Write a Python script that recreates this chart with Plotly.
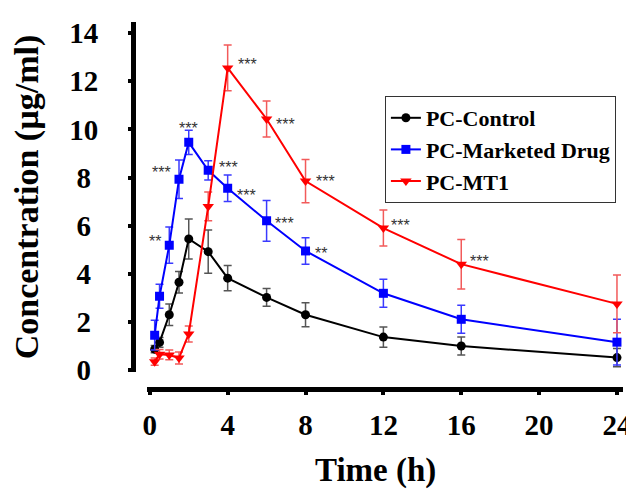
import plotly.graph_objects as go

# ---- data ----
time_h = [0.25, 0.5, 1, 1.5, 2, 3, 4, 6, 8, 12, 16, 24]

control = [0.87, 1.15, 2.3, 3.65, 5.45, 4.92, 3.82, 3.02, 2.3, 1.37, 1.0, 0.52]
control_sd = [0.15, 0.2, 0.45, 0.45, 0.83, 0.9, 0.52, 0.37, 0.5, 0.42, 0.37, 0.38]

marketed = [1.45, 3.07, 5.19, 7.93, 9.46, 8.3, 7.55, 6.2, 4.95, 3.19, 2.11, 1.16]
marketed_sd = [0.62, 0.5, 0.75, 0.8, 0.5, 0.4, 0.55, 0.85, 0.55, 0.58, 0.58, 0.95]

mt1 = [0.35, 0.66, 0.63, 0.5, 1.5, 6.8, 12.55, 10.43, 7.85, 5.9, 4.4, 2.75]
mt1_sd = [0.15, 0.2, 0.2, 0.25, 0.33, 0.6, 0.95, 0.75, 0.9, 0.75, 1.03, 1.2]

marketed_sig = ["", "", "**", "***", "***", "***", "***", "***", "**", "", "", ""]
mt1_sig = ["", "", "", "", "", "", "***", "***", "***", "***", "***", "*"]

x_ticks = [0, 4, 8, 12, 16, 20, 24]
y_ticks = [0, 2, 4, 6, 8, 10, 12, 14]

series_names = ["PC-Control", "PC-Marketed Drug", "PC-MT1"]
x_title = "Time (h)"
y_title = "Concentration (µg/ml)"

# ---- styling ----
SERIF = "Liberation Serif"
styles = [
    dict(color="#000000", err="#555555", symbol="circle", size=9),
    dict(color="#0000ff", err="#3a3aff", symbol="square", size=9),
    dict(color="#ff0000", err="#f25a5a", symbol="triangle-down", size=10),
]

fig = go.Figure()
for name, y, sd, st in zip(series_names,
                           [control, marketed, mt1],
                           [control_sd, marketed_sd, mt1_sd],
                           styles):
    fig.add_trace(go.Scatter(
        x=time_h, y=y, name=name, mode="lines+markers",
        line=dict(color=st["color"], width=2),
        marker=dict(color=st["color"], symbol=st["symbol"], size=st["size"]),
        error_y=dict(type="data", array=sd, visible=True,
                     color=st["err"], thickness=1.5, width=4),
    ))

# significance markers: offsets (px) per time index
marketed_off = {2: (-6, 8, "right"), 3: (-6, 11, "right"), 4: (0, 18, "center"),
                5: (9, 7, "left"), 6: (7, -3, "left"), 7: (6, 1, "left"), 8: (7, 1, "left")}
mt1_off = {6: (8, 7, "left"), 7: (7, -1, "left"), 8: (8, 4, "left"),
           9: (6, 7, "left"), 10: (7, 7, "left"), 11: (8, 6, "left")}

annotations = []
for sig, vals, offs in [(marketed_sig, marketed, marketed_off), (mt1_sig, mt1, mt1_off)]:
    for i, s in enumerate(sig):
        if not s:
            continue
        dx, dy, anchor = offs[i]
        annotations.append(dict(
            x=time_h[i], y=vals[i], xref="x", yref="y", text=s, showarrow=False,
            xanchor=anchor, yanchor="middle", xshift=dx, yshift=dy - 4,
            font=dict(family="Liberation Sans", size=16, color="#333333")))

# x-axis title placed as paper annotation (centred like the reference)
annotations.append(dict(
    x=0.501, y=-0.212, xref="paper", yref="paper", text=x_title, showarrow=False,
    xanchor="center", yanchor="middle",
    font=dict(family=SERIF, size=33, color="black", weight="bold")))

# y tick labels: visually centred, like the reference
y_ticktext = [str(v) + ("\u2005" if v < 10 else "") for v in y_ticks]

# the page body adds an 8px offset, so the figure is 8px smaller each way
fig.update_layout(
    template="none",
    width=626, height=483,
    margin=dict(l=120, r=11, t=14, b=99, autoexpand=False),
    paper_bgcolor="white", plot_bgcolor="white",
    showlegend=True,
    legend=dict(x=0.519, y=0.8, xanchor="left", yanchor="top",
                bordercolor="#333333", borderwidth=1, bgcolor="white",
                font=dict(family=SERIF, size=22, color="black", weight="bold"),
                tracegroupgap=0, itemwidth=30),
    annotations=annotations,
    xaxis=dict(
        domain=[0.038, 1], anchor="free", position=0.008, automargin=False,
        range=[-0.154, 24.31], tickvals=x_ticks,
        showline=True, linecolor="black", linewidth=5,
        ticks="outside", ticklen=3, tickwidth=4, tickcolor="black",
        showgrid=False, zeroline=False,
        tickfont=dict(family=SERIF, size=29, color="black", weight="bold"),
        ticklabelstandoff=5,
    ),
    yaxis=dict(
        domain=[0.054, 1], anchor="free", position=0.01, automargin=False,
        range=[-0.08, 14.46], tickvals=y_ticks, ticktext=y_ticktext,
        showline=True, linecolor="black", linewidth=5,
        ticks="outside", ticklen=3, tickwidth=4, tickcolor="black",
        showgrid=False, zeroline=False,
        tickfont=dict(family=SERIF, size=29, color="black", weight="bold"),
        ticklabelstandoff=24,
        title=dict(text=y_title, standoff=19,
                   font=dict(family=SERIF, size=34, color="black", weight="bold")),
    ),
)

fig.write_html("out.html")
